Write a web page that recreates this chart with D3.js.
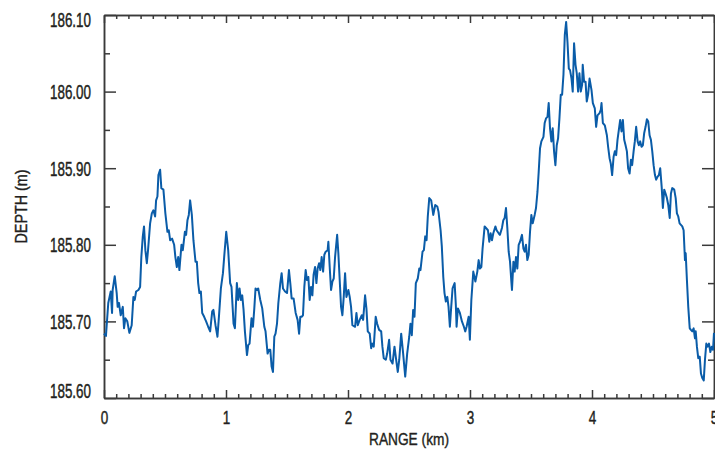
<!DOCTYPE html>
<html>
<head>
<meta charset="utf-8">
<script src="https://cdn.jsdelivr.net/npm/d3@7"></script>
<style>
  body { margin: 0; background: #fff; }
  .axis path, .axis line { stroke: #3a3a3a; stroke-width: 1.5; }
  .axis text { font-family: "Liberation Sans", Arial, sans-serif; fill: #231f20; stroke: #231f20; stroke-width: 0.45px; }
  .axis-label { font-family: "Liberation Sans", Arial, sans-serif; fill: #231f20; stroke: #231f20; stroke-width: 0.4px; font-size: 17px; text-anchor: middle; }
</style>
</head>
<body>
<svg id="chart"></svg>
<script>
// Data: range along the track (km) and depth (m)
const rangeKm = [
  0.000, 0.016, 0.035, 0.055, 0.066, 0.071, 0.088, 0.104, 0.112, 0.123,
  0.137, 0.154, 0.164, 0.175, 0.191, 0.208, 0.227, 0.241, 0.252, 0.263,
  0.282, 0.296, 0.306, 0.318, 0.328, 0.339, 0.351, 0.361, 0.378, 0.392,
  0.405, 0.419, 0.427, 0.438, 0.446, 0.460, 0.470, 0.487, 0.503, 0.520,
  0.531, 0.542, 0.558, 0.575, 0.585, 0.597, 0.608, 0.618, 0.635, 0.646,
  0.663, 0.673, 0.684, 0.695, 0.706, 0.720, 0.733, 0.750, 0.761, 0.772,
  0.782, 0.794, 0.805, 0.821, 0.837, 0.854, 0.870, 0.887, 0.897, 0.914,
  0.930, 0.942, 0.958, 0.975, 0.985, 1.002, 1.018, 1.034, 1.045, 1.062,
  1.073, 1.089, 1.100, 1.111, 1.122, 1.133, 1.144, 1.155, 1.172, 1.182,
  1.193, 1.209, 1.221, 1.232, 1.242, 1.254, 1.264, 1.281, 1.297, 1.314,
  1.324, 1.341, 1.352, 1.363, 1.374, 1.385, 1.396, 1.406, 1.418, 1.429,
  1.445, 1.456, 1.467, 1.484, 1.500, 1.516, 1.527, 1.538, 1.554, 1.571,
  1.587, 1.599, 1.609, 1.620, 1.631, 1.642, 1.653, 1.664, 1.675, 1.686,
  1.697, 1.708, 1.718, 1.730, 1.741, 1.751, 1.763, 1.773, 1.784, 1.796,
  1.806, 1.817, 1.833, 1.839, 1.850, 1.861, 1.872, 1.883, 1.894, 1.911,
  1.921, 1.932, 1.943, 1.954, 1.965, 1.976, 1.987, 2.003, 2.014, 2.025,
  2.036, 2.058, 2.069, 2.080, 2.096, 2.113, 2.124, 2.140, 2.151, 2.162,
  2.178, 2.190, 2.200, 2.211, 2.227, 2.239, 2.255, 2.272, 2.282, 2.293,
  2.310, 2.321, 2.337, 2.348, 2.365, 2.381, 2.397, 2.408, 2.420, 2.436,
  2.452, 2.469, 2.485, 2.502, 2.512, 2.523, 2.534, 2.545, 2.556, 2.572,
  2.584, 2.594, 2.611, 2.622, 2.633, 2.644, 2.654, 2.666, 2.682, 2.699,
  2.715, 2.732, 2.742, 2.759, 2.769, 2.781, 2.791, 2.802, 2.814, 2.824,
  2.835, 2.846, 2.857, 2.874, 2.884, 2.890, 2.901, 2.917, 2.934, 2.950,
  2.961, 2.972, 2.989, 2.999, 3.011, 3.027, 3.044, 3.060, 3.071, 3.081,
  3.093, 3.103, 3.120, 3.131, 3.147, 3.158, 3.169, 3.180, 3.191, 3.208,
  3.218, 3.235, 3.245, 3.262, 3.273, 3.284, 3.295, 3.306, 3.317, 3.328,
  3.339, 3.344, 3.356, 3.366, 3.377, 3.388, 3.399, 3.410, 3.426, 3.438,
  3.448, 3.459, 3.470, 3.481, 3.492, 3.503, 3.514, 3.530, 3.541, 3.553,
  3.563, 3.574, 3.585, 3.602, 3.612, 3.623, 3.635, 3.645, 3.656, 3.667,
  3.678, 3.689, 3.700, 3.711, 3.722, 3.733, 3.744, 3.755, 3.766, 3.777,
  3.788, 3.799, 3.810, 3.820, 3.832, 3.842, 3.853, 3.865, 3.875, 3.886,
  3.897, 3.908, 3.919, 3.924, 3.935, 3.947, 3.957, 3.968, 3.980, 3.996,
  4.007, 4.023, 4.034, 4.045, 4.062, 4.072, 4.078, 4.089, 4.105, 4.122,
  4.132, 4.144, 4.154, 4.165, 4.177, 4.187, 4.198, 4.209, 4.220, 4.231,
  4.242, 4.253, 4.264, 4.275, 4.286, 4.296, 4.308, 4.319, 4.329, 4.341,
  4.351, 4.362, 4.374, 4.384, 4.395, 4.406, 4.417, 4.428, 4.439, 4.450,
  4.461, 4.472, 4.483, 4.494, 4.505, 4.516, 4.526, 4.538, 4.548, 4.559,
  4.571, 4.581, 4.592, 4.603, 4.614, 4.625, 4.637, 4.647, 4.658, 4.674,
  4.686, 4.696, 4.707, 4.718, 4.729, 4.740, 4.751, 4.762, 4.768, 4.778,
  4.789, 4.801, 4.811, 4.822, 4.833, 4.844, 4.850, 4.860, 4.871, 4.883,
  4.893, 4.904, 4.916, 4.926, 4.937, 4.948, 4.959, 4.970, 4.981, 4.992,
  5.000
];

const depthM = [
  185.684, 185.681, 185.724, 185.739, 185.711, 185.741, 185.759, 185.737, 185.719, 185.724,
  185.708, 185.719, 185.691, 185.704, 185.700, 185.685, 185.695, 185.732, 185.728, 185.739,
  185.741, 185.745, 185.784, 185.811, 185.824, 185.793, 185.776, 185.793, 185.828, 185.841,
  185.845, 185.837, 185.858, 185.863, 185.891, 185.898, 185.874, 185.872, 185.841, 185.817,
  185.819, 185.806, 185.808, 185.800, 185.784, 185.771, 185.784, 185.767, 185.800, 185.793,
  185.817, 185.813, 185.832, 185.839, 185.858, 185.839, 185.806, 185.778, 185.778, 185.750,
  185.737, 185.739, 185.711, 185.706, 185.700, 185.693, 185.687, 185.713, 185.715, 185.695,
  185.680, 185.706, 185.743, 185.763, 185.784, 185.817, 185.793, 185.750, 185.745, 185.697,
  185.691, 185.750, 185.728, 185.743, 185.728, 185.734, 185.715, 185.687, 185.656, 185.669,
  185.671, 185.704, 185.693, 185.717, 185.743, 185.741, 185.743, 185.728, 185.717, 185.693,
  185.687, 185.658, 185.663, 185.663, 185.641, 185.634, 185.680, 185.684, 185.697, 185.724,
  185.750, 185.763, 185.743, 185.739, 185.737, 185.767, 185.750, 185.730, 185.730, 185.711,
  185.702, 185.684, 185.706, 185.706, 185.708, 185.745, 185.767, 185.754, 185.758, 185.728,
  185.745, 185.734, 185.761, 185.771, 185.750, 185.769, 185.776, 185.767, 185.784, 185.765,
  185.787, 185.791, 185.793, 185.804, 185.771, 185.741, 185.752, 185.756, 185.784, 185.813,
  185.789, 185.754, 185.719, 185.708, 185.732, 185.763, 185.732, 185.741, 185.732, 185.719,
  185.695, 185.693, 185.711, 185.695, 185.702, 185.708, 185.702, 185.734, 185.717, 185.687,
  185.684, 185.665, 185.671, 185.667, 185.706, 185.697, 185.689, 185.687, 185.667, 185.652,
  185.650, 185.658, 185.676, 185.650, 185.645, 185.667, 185.647, 185.634, 185.650, 185.684,
  185.658, 185.628, 185.658, 185.680, 185.697, 185.682, 185.715, 185.706, 185.750, 185.756,
  185.769, 185.767, 185.791, 185.793, 185.811, 185.806, 185.837, 185.861, 185.858, 185.839,
  185.852, 185.850, 185.843, 185.819, 185.798, 185.758, 185.737, 185.726, 185.732, 185.719,
  185.693, 185.719, 185.743, 185.750, 185.721, 185.693, 185.717, 185.711, 185.700, 185.693,
  185.687, 185.693, 185.706, 185.676, 185.728, 185.765, 185.752, 185.765, 185.780, 185.769,
  185.771, 185.795, 185.824, 185.822, 185.819, 185.804, 185.815, 185.806, 185.815, 185.824,
  185.819, 185.815, 185.813, 185.822, 185.832, 185.835, 185.848, 185.822, 185.791, 185.778,
  185.752, 185.741, 185.778, 185.765, 185.784, 185.769, 185.800, 185.804, 185.813, 185.795,
  185.791, 185.800, 185.780, 185.787, 185.817, 185.839, 185.828, 185.839, 185.848, 185.869,
  185.895, 185.926, 185.935, 185.941, 185.959, 185.965, 185.967, 185.985, 185.952, 185.935,
  185.952, 185.922, 185.904, 185.930, 185.939, 185.965, 185.996, 185.996, 186.022, 186.074,
  186.091, 186.065, 186.030, 186.028, 186.017, 186.000, 186.063, 186.035, 186.024, 186.000,
  186.024, 186.000, 186.009, 186.035, 186.013, 186.013, 185.987, 185.996, 186.017, 186.002,
  185.985, 185.978, 185.954, 185.969, 185.972, 185.976, 185.985, 185.959, 185.956, 185.943,
  185.928, 185.913, 185.906, 185.891, 185.915, 185.922, 185.917, 185.937, 185.950, 185.963,
  185.948, 185.963, 185.937, 185.930, 185.922, 185.900, 185.893, 185.911, 185.904, 185.922,
  185.935, 185.954, 185.935, 185.930, 185.935, 185.928, 185.930, 185.946, 185.954, 185.964,
  185.961, 185.943, 185.937, 185.922, 185.904, 185.891, 185.885, 185.889, 185.891, 185.900,
  185.876, 185.848, 185.872, 185.867, 185.861, 185.852, 185.835, 185.867, 185.874, 185.872,
  185.861, 185.841, 185.837, 185.828, 185.826, 185.824, 185.819, 185.780, 185.789, 185.754,
  185.719, 185.691, 185.689, 185.687, 185.691, 185.678, 185.687, 185.667, 185.652, 185.654,
  185.632, 185.626, 185.623, 185.650, 185.671, 185.667, 185.671, 185.660, 185.667, 185.663,
  185.685
];

// Axis ranges and ticks
const xDomain = [0, 5];
const yDomain = [185.60, 186.10];
const xMajorTicks = [0, 1, 2, 3, 4, 5];
const yMajorTicks = [185.60, 185.70, 185.80, 185.90, 186.00, 186.10];

// Set dimensions
const totalWidth = 715, totalHeight = 452;
const margin = { top: 15, right: 1, bottom: 54, left: 104 };
const width = totalWidth - margin.left - margin.right;
const height = totalHeight - margin.top - margin.bottom;

const svg = d3.select("#chart")
    .attr("width", totalWidth)
    .attr("height", totalHeight)
    .append("g")
    .attr("transform", `translate(${margin.left},${margin.top})`);

const data = rangeKm.map((r, i) => ({ range: r, depth: depthM[i] }));

// Scales
const xScale = d3.scaleLinear().domain(xDomain).range([0, width]);
const yScale = d3.scaleLinear().domain(yDomain).range([height, 0]);

// minor ticks: every 0.1 km and every 0.05 m
const xMinorTicks = d3.range(1, 50).map(i => i / 10).filter(v => Math.abs(v - Math.round(v)) > 1e-6);
const yMinorTicks = d3.range(0, 5).map(i => 185.65 + i / 10);

// Bottom axis
svg.append("g")
    .attr("class", "axis")
    .attr("transform", `translate(0,${height})`)
    .call(d3.axisBottom(xScale).tickValues(xMinorTicks).tickSizeInner(-4).tickSizeOuter(0).tickFormat(""));
const xAxis = svg.append("g")
    .attr("class", "axis")
    .attr("transform", `translate(0,${height})`)
    .call(d3.axisBottom(xScale).tickValues(xMajorTicks).tickSizeInner(-8).tickSizeOuter(0).tickPadding(13).tickFormat(d3.format("d")));
xAxis.selectAll("text")
    .style("font-size", "19px")
    .attr("textLength", 7.5)
    .attr("lengthAdjust", "spacingAndGlyphs");

// Top axis
svg.append("g")
    .attr("class", "axis")
    .call(d3.axisTop(xScale).tickValues(xMinorTicks).tickSizeInner(-4).tickSizeOuter(0).tickFormat(""));
svg.append("g")
    .attr("class", "axis")
    .call(d3.axisTop(xScale).tickValues(xMajorTicks).tickSizeInner(-8).tickSizeOuter(0).tickFormat(""));

// Left axis
svg.append("g")
    .attr("class", "axis")
    .call(d3.axisLeft(yScale).tickValues(yMinorTicks).tickSizeInner(-6).tickSizeOuter(0).tickFormat(""));
const yAxis = svg.append("g")
    .attr("class", "axis")
    .call(d3.axisLeft(yScale).tickValues(yMajorTicks).tickSizeInner(-12).tickSizeOuter(0).tickPadding(13).tickFormat(d3.format(".2f")));
yAxis.selectAll("text")
    .style("font-size", "20px")
    .attr("textLength", 41)
    .attr("lengthAdjust", "spacingAndGlyphs")
    .attr("dy", (d, i) => i === 0 ? "-0.05em" : i === yMajorTicks.length - 1 ? "0.55em" : "0.35em");

// Right axis
svg.append("g")
    .attr("class", "axis")
    .attr("transform", `translate(${width},0)`)
    .call(d3.axisRight(yScale).tickValues(yMinorTicks).tickSizeInner(-6).tickSizeOuter(0).tickFormat(""));
svg.append("g")
    .attr("class", "axis")
    .attr("transform", `translate(${width},0)`)
    .call(d3.axisRight(yScale).tickValues(yMajorTicks).tickSizeInner(-12).tickSizeOuter(0).tickFormat(""));

// Depth profile line
const line = d3.line()
    .x(d => xScale(d.range))
    .y(d => yScale(d.depth));

svg.append("path")
    .datum(data)
    .attr("fill", "none")
    .attr("stroke", "#0a5ca8")
    .attr("stroke-width", 2)
    .attr("stroke-linejoin", "round")
    .attr("d", line);

// Axis labels
svg.append("text")
    .attr("class", "axis-label")
    .attr("x", width / 2)
    .attr("y", height + 47)
    .attr("textLength", 80)
    .attr("lengthAdjust", "spacingAndGlyphs")
    .text("RANGE (km)");

svg.append("text")
    .attr("class", "axis-label")
    .attr("transform", "rotate(-90)")
    .attr("x", -height / 2)
    .attr("y", -77)
    .attr("textLength", 74)
    .attr("lengthAdjust", "spacingAndGlyphs")
    .text("DEPTH (m)");
</script>
</body>
</html>
